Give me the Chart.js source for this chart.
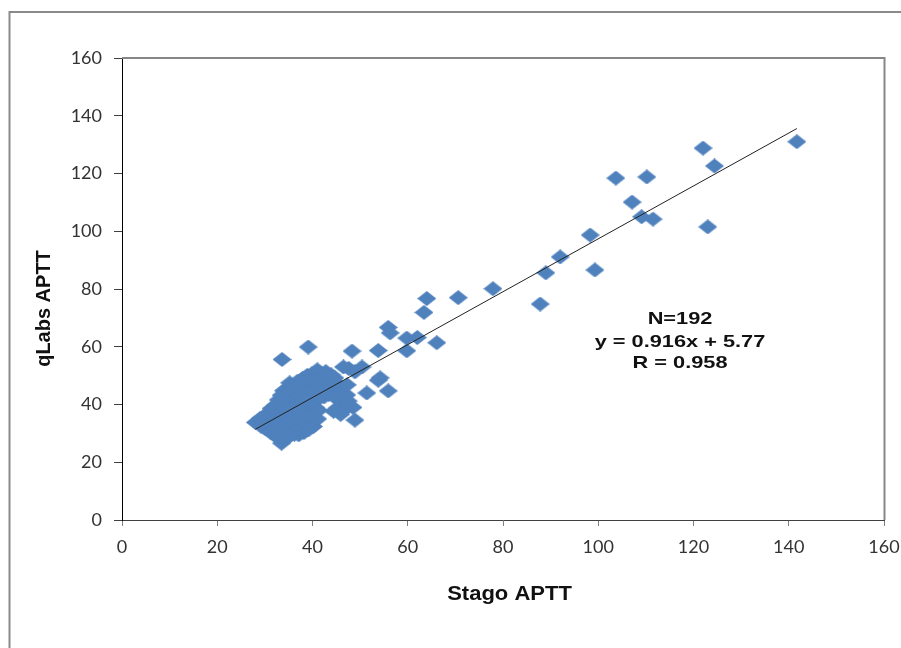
<!DOCTYPE html>
<html>
<head>
<meta charset="utf-8">
<script src="https://cdn.jsdelivr.net/npm/chart.js@4/dist/chart.umd.min.js"></script>
<style>
  html, body { margin: 0; padding: 0; background: #fff; }
  canvas { display: block; }
</style>
</head>
<body>
<canvas id="c" width="901" height="648"></canvas>
<script>
// ---- data ----
const stagoAPTT = [
  141.7,122.0,124.4,103.7,110.2,107.1,109.1,111.5,123.0,98.3,
  92.0,99.3,89.0,87.8,77.9,70.6,64.0,63.4,55.9,56.3,
  59.8,62.0,66.1,59.8,53.8,48.3,47.6,50.4,54.2,53.8,
  55.9,51.4,47.2,48.5,48.9,39.1,33.6,44.7,44.7,46.4,
  28.0,29.2,29.0,
  30.1,30.4,30.2,30.8,
  31.2,31.5,31.3,31.7,31.0,
  32.1,32.4,32.2,32.6,32.3,32.8,32.0,
  33.1,33.5,33.3,33.0,33.6,33.2,33.7,33.4,33.9,33.8,
  34.2,34.5,34.1,34.7,34.3,34.8,34.2,34.6,34.4,34.9,34.0,34.6,
  35.1,35.4,35.2,35.7,35.3,35.8,35.0,35.5,35.9,35.2,35.6,35.4,
  36.2,36.5,36.0,36.7,36.3,36.8,36.1,36.6,36.4,36.9,36.2,36.5,
  37.1,37.4,37.0,37.6,37.3,37.8,37.2,37.7,37.5,37.9,37.3,
  38.2,38.5,38.0,38.7,38.3,38.8,38.1,38.6,38.4,38.9,38.6,
  39.1,39.4,39.0,39.6,39.3,39.8,39.2,39.7,39.5,39.9,
  40.2,40.5,40.0,40.6,40.3,40.8,40.1,40.7,40.4,40.9,
  41.1,41.3,41.6,41.2,41.8,41.5,41.9,41.0,
  42.3,42.0,42.6,42.2,42.8,42.4,
  43.2,43.6,43.0,43.9,43.4,
  44.2,45.0,45.6,44.8,46.2,45.3,46.8,47.5,45.9,44.4,46.5,48.9,47.3,
  34.9,36.0,37.0,35.8,38.0,36.4,37.8,39.4,33.9,38.9,35.1,37.5,36.9
];
const qLabsAPTT = [
  131.0,128.8,122.6,118.4,118.8,110.1,105.0,104.2,101.5,98.7,
  91.1,86.6,85.6,74.8,80.1,77.0,76.7,71.9,66.7,64.8,
  63.0,63.2,61.4,58.6,58.7,58.5,52.5,53.0,49.2,48.4,
  44.7,44.0,43.3,39.0,34.6,59.9,55.6,49.2,44.0,40.5,
  33.8,32.5,35.1,
  31.6,34.2,36.5,33.0,
  30.4,35.8,38.6,33.1,37.2,
  29.2,31.8,34.5,36.9,39.8,41.6,38.1,
  28.4,26.6,30.6,32.9,35.2,37.6,40.3,43.2,44.8,33.9,
  28.1,30.0,31.7,34.0,36.2,38.4,39.9,41.7,43.9,45.6,37.0,32.6,
  28.9,30.8,33.1,35.0,37.3,39.2,41.1,43.0,46.4,47.5,31.9,44.5,
  29.7,31.5,33.8,36.1,38.0,40.3,42.2,44.1,46.0,48.1,35.0,30.4,
  29.5,32.2,34.6,36.7,38.9,41.0,43.3,45.2,47.3,49.0,31.0,
  30.3,32.9,35.3,37.5,39.6,42.0,44.2,46.5,48.4,50.1,31.4,
  31.2,33.6,36.4,38.3,40.6,42.7,45.0,47.1,49.2,50.6,
  32.4,34.5,37.1,39.0,41.4,43.6,45.8,47.9,49.9,51.0,
  35.0,38.0,42.4,44.7,46.9,48.8,50.7,52.0,
  44.0,46.0,47.8,49.7,51.4,42.6,
  45.2,47.2,49.5,50.3,43.5,
  46.0,47.5,45.3,42.3,43.8,38.8,38.3,41.2,36.6,37.7,53.0,51.3,46.8,
  35.6,39.1,40.2,36.5,41.2,33.0,34.1,44.0,38.9,36.0,38.3,42.4,37.7
];
const regSlope = [0.916];
const regIntercept = [5.77];
const statLines = ["N=192", "y = 0.916x + 5.77", "R = 0.958"];
const xTitle = "Stago APTT";
const yTitle = "qLabs APTT";
const axisTicks = [0, 20, 40, 60, 80, 100, 120, 140, 160];

// ---- build datasets ----
const points = stagoAPTT.map((x, i) => ({ x: x, y: qLabsAPTT[i] }));
const xMin = Math.min(...stagoAPTT), xMax = Math.max(...stagoAPTT);
const trend = [xMin, xMax].map(x => ({ x: x, y: regSlope[0] * x + regIntercept[0] }));

// diamond marker (slightly wider than tall, as in the reference)
const diamond = document.createElement('canvas');
diamond.width = 19; diamond.height = 15;
(function () {
  const g = diamond.getContext('2d');
  g.fillStyle = '#4F81BD';
  g.beginPath();
  g.moveTo(0, 7.5); g.lineTo(9.5, 0); g.lineTo(19, 7.5); g.lineTo(9.5, 15);
  g.closePath(); g.fill();
})();

const decor = {
  id: 'decor',
  beforeDraw(chart) {
    const c = chart.ctx;
    c.save();
    c.fillStyle = '#fff';
    c.fillRect(0, 0, chart.width, chart.height);
    c.strokeStyle = '#8a8a8a';
    c.lineWidth = 2;
    c.strokeRect(9.5, 12, chart.width + 20, chart.height + 20);
    c.restore();
  },
  afterDraw(chart) {
    const c = chart.ctx, a = chart.chartArea;
    c.save();
    // plot area top/right border
    c.strokeStyle = '#868686';
    c.lineWidth = 2;
    c.beginPath();
    c.moveTo(a.left, a.top);
    c.lineTo(a.right + 0.5, a.top);
    c.lineTo(a.right + 0.5, a.bottom);
    c.stroke();
    // stats annotation
    c.fillStyle = '#111';
    c.font = 'bold 17px "Liberation Sans", Arial, sans-serif';
    c.textAlign = 'center';
    c.textBaseline = 'alphabetic';
    const cx = a.left + 558;
    const baselines = [a.top + 266, a.top + 288.5, a.top + 309.5];
    statLines.forEach((t, i) => {
      c.save();
      c.translate(cx, baselines[i]);
      c.scale(1.28, 1);
      c.fillText(t, 0, 0);
      c.restore();
    });
    // axis titles
    c.font = 'bold 20px "Liberation Sans", Arial, sans-serif';
    c.save();
    c.translate(509.5, a.bottom + 80);
    c.scale(1.1, 1);
    c.fillText(xTitle, 0, 0);
    c.restore();
    c.save();
    c.translate(50, (a.top + a.bottom) / 2 + 19.5);
    c.rotate(-Math.PI / 2);
    c.fillText(yTitle, 0, 0);
    c.restore();
    c.restore();
  }
};

new Chart(document.getElementById('c'), {
  type: 'scatter',
  data: {
    datasets: [
      {
        type: 'line',
        data: trend,
        borderColor: '#222',
        borderWidth: 1,
        pointRadius: 0,
        fill: false,
        order: 0
      },
      {
        data: points,
        pointStyle: diamond,
        pointRadius: 9,
        backgroundColor: '#4F81BD',
        borderColor: '#4F81BD',
        order: 1
      }
    ]
  },
  options: {
    responsive: false,
    animation: false,
    events: [],
    layout: { padding: { left: 0, top: 58, right: 17, bottom: 0 } },
    plugins: { legend: { display: false }, tooltip: { enabled: false } },
    scales: {
      x: {
        type: 'linear',
        min: axisTicks[0],
        max: axisTicks[axisTicks.length - 1],
        afterBuildTicks: s => { s.ticks = axisTicks.map(v => ({ value: v })); },
        afterFit: s => { s.height = 128; s.paddingLeft = 0; s.paddingRight = 0; },
        grid: { drawOnChartArea: false, drawTicks: true, tickLength: 6, color: '#808080' },
        border: { color: '#404040', width: 1 },
        ticks: { font: { family: 'Lato', size: 18 }, color: '#333', padding: 10, maxRotation: 0 }
      },
      y: {
        type: 'linear',
        min: axisTicks[0],
        max: axisTicks[axisTicks.length - 1],
        afterBuildTicks: s => { s.ticks = axisTicks.map(v => ({ value: v })); },
        afterFit: s => { s.width = 122; s.paddingTop = 0; s.paddingBottom = 0; },
        grid: { drawOnChartArea: false, drawTicks: true, tickLength: 8, color: '#404040' },
        border: { color: '#000', width: 1 },
        ticks: { font: { family: 'Lato', size: 18 }, color: '#333', padding: 12 }
      }
    }
  },
  plugins: [decor]
});
</script>
</body>
</html>
